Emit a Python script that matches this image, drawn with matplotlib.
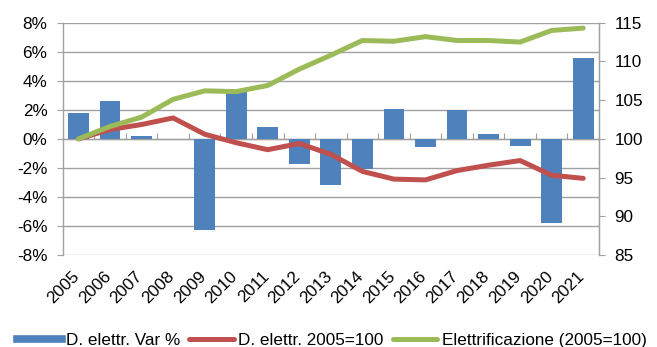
import matplotlib
matplotlib.use("Agg")
import matplotlib.pyplot as plt
import matplotlib.transforms as mtransforms
from matplotlib.lines import Line2D
import numpy as np

plt.rcParams['font.family'] = ['Liberation Sans', 'DejaVu Sans']

years = [str(y) for y in range(2005, 2022)]
var_pct = [1.75, 2.6, 0.2, 0.0, -6.3, 3.2, 0.8, -1.75, -3.15,
           -2.05, 2.07, -0.55, 2.02, 0.34, -0.46, -5.8, 5.55]
demand_idx = [100.0, 101.2, 101.85, 102.7, 100.6, 99.5, 98.6, 99.4, 98.0,
              95.8, 94.8, 94.7, 95.9, 96.6, 97.2, 95.3, 94.9]
electrif_idx = [100.0, 101.6, 102.8, 105.1, 106.2, 106.1, 106.9, 109.0, 110.8,
                112.7, 112.6, 113.2, 112.7, 112.7, 112.5, 114.0, 114.3]

label_bar = "D. elettr. Var %"
label_demand = "D. elettr. 2005=100"
label_electrif = "Elettrificazione (2005=100)"

blue = "#4F81BD"
red = "#C0504D"
green = "#9BBB59"
gray = "#A0A0A0"
fsize = 12.3

fig = plt.figure(figsize=(6.57, 3.47), dpi=100)
ax = fig.add_axes([0.0954, 0.2651, 0.8163, 0.6695])
x = np.arange(len(years))

ax.bar(x, var_pct, width=0.66, color=blue, zorder=2)
ax.set_xlim(-0.5, len(years) - 0.5)
ax.set_ylim(-8, 8)
ax.set_yticks(np.arange(-8, 9, 2))
ax.set_yticklabels([f"{v}%" for v in range(-8, 9, 2)])
ax.grid(axis='y', color=gray, linewidth=1.0, zorder=0)
ax.set_axisbelow(True)

for side in ['top', 'bottom']:
    ax.spines[side].set_visible(False)
for side in ['left', 'right']:
    ax.spines[side].set_color(gray)
    ax.spines[side].set_linewidth(1.0)

ax.tick_params(axis='y', length=4, color=gray, labelsize=fsize, pad=7)
ax.set_xticks(x)
ax.set_xticklabels(years, rotation=45, ha='right', fontsize=fsize)
ax.tick_params(axis='x', length=0, pad=10)
offset = mtransforms.ScaledTranslation(4 / 100, 0, fig.dpi_scale_trans)
for lab in ax.get_xticklabels():
    lab.set_transform(lab.get_transform() + offset)

# category ticks along the zero line
zero_axis = ax.secondary_xaxis(0.5)
zero_axis.set_xticks(np.arange(-0.5, len(years), 1.0))
zero_axis.set_xticklabels([])
zero_axis.tick_params(axis='x', length=4, color=gray, direction='out')
zero_axis.spines['bottom'].set_color(gray)
zero_axis.spines['bottom'].set_linewidth(1.0)

ax2 = ax.twinx()
ax2.plot(x, demand_idx, color=red, linewidth=3.6, solid_capstyle='round', zorder=3)
ax2.plot(x, electrif_idx, color=green, linewidth=3.6, solid_capstyle='round', zorder=3)
ax2.set_ylim(85, 115)
ax2.set_yticks(np.arange(85, 116, 5))
ax2.tick_params(axis='y', length=4, color=gray, labelsize=fsize, pad=7)
for side in ['top', 'bottom', 'left']:
    ax2.spines[side].set_visible(False)
ax2.spines['right'].set_color(gray)

handles = [
    Line2D([0], [0], color=blue, linewidth=5.5),
    Line2D([0], [0], color=red, linewidth=3.6, solid_capstyle='round'),
    Line2D([0], [0], color=green, linewidth=3.6, solid_capstyle='round'),
]
fig.legend(handles, [label_bar, label_demand, label_electrif],
           loc='lower center', bbox_to_anchor=(0.505, -0.048), ncol=3,
           frameon=False, fontsize=fsize, handlelength=2.6, handletextpad=0.25,
           columnspacing=0.55)

fig.savefig("out.png", dpi=100)
